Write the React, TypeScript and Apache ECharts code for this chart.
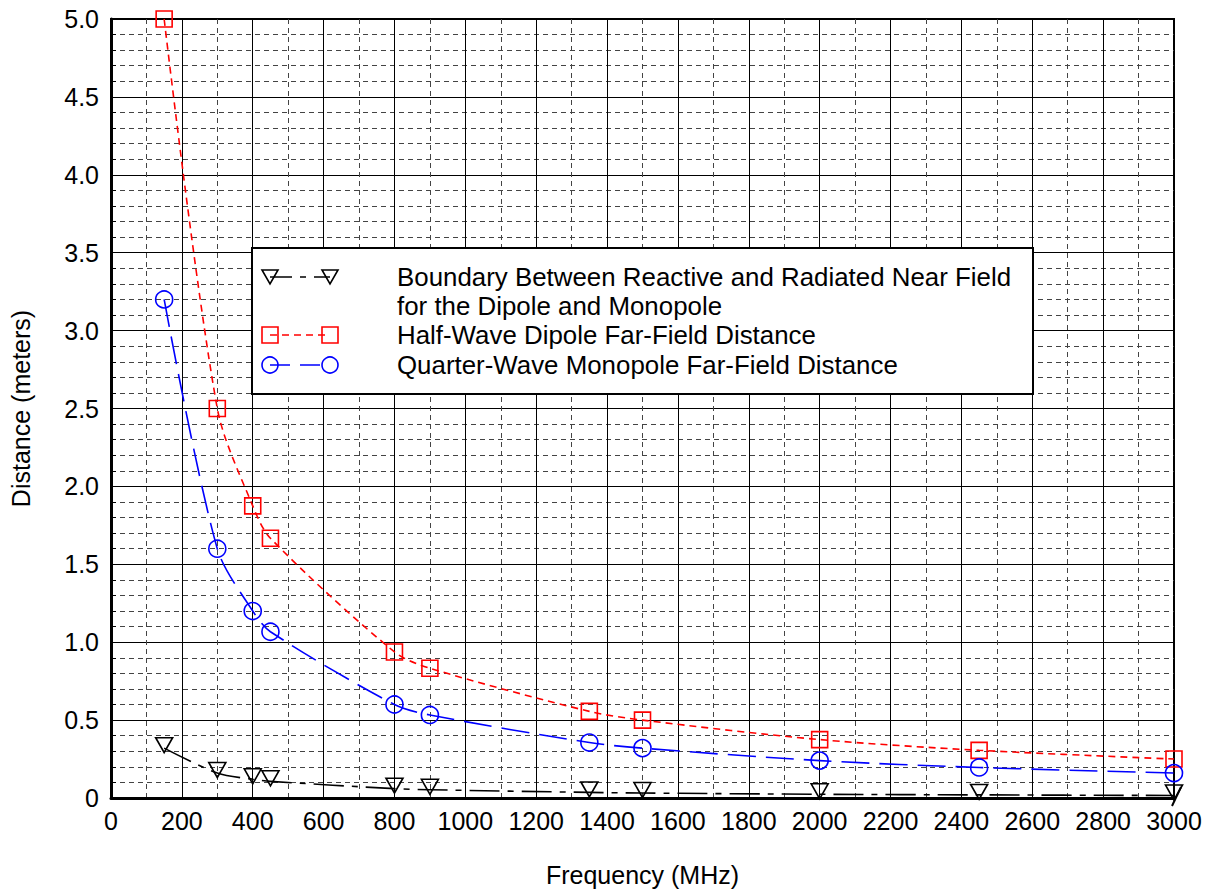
import React, { useEffect, useRef } from "react";
import * as echarts from "echarts";

const freqs = [150, 300, 400, 450, 800, 900, 1350, 1500, 2000, 2450, 3000];
const nearField = [0.32, 0.16, 0.12, 0.107, 0.06, 0.053, 0.036, 0.032, 0.024, 0.02, 0.016];
const dipoleFar = [5.0, 2.5, 1.875, 1.667, 0.9375, 0.833, 0.556, 0.5, 0.375, 0.306, 0.25];
const monopoleFar = [3.2, 1.6, 1.2, 1.067, 0.6, 0.533, 0.356, 0.32, 0.24, 0.196, 0.16];

const legendLabels = [
  "Boundary Between Reactive and Radiated Near Field",
  "for the Dipole and Monopole",
  "Half-Wave Dipole Far-Field Distance",
  "Quarter-Wave Monopole Far-Field Distance",
];

const FONT = "Liberation Sans";
const TRI = "path://M0,0 L10,0 L5,9 Z";

export default function App() {
  const ref = useRef<HTMLDivElement>(null);
  useEffect(() => {
    document.body.style.margin = "0";
    const chart = echarts.init(ref.current!, null, { renderer: "svg" });
    const mk = (ys: number[]) => freqs.map((f, i) => [f, ys[i]]);
    const hollow = (c: string) => ({ color: "rgba(255,255,255,0)", borderColor: c, borderWidth: 1.6 });

    const legendRow = (y: number, color: string, dash: number[], symbol: string) => {
      const els: any[] = [
        { type: "line", shape: { x1: 270, y1: y, x2: 330, y2: y }, style: { stroke: color, lineWidth: 1.6, lineDash: dash } },
      ];
      [270, 330].forEach((x) => {
        if (symbol === "tri") {
          els.push({ type: "polygon", shape: { points: [[x - 8, y - 7], [x + 8, y - 7], [x, y + 7]] }, style: { fill: "none", stroke: color, lineWidth: 1.6 } });
        } else if (symbol === "rect") {
          els.push({ type: "rect", shape: { x: x - 8, y: y - 8, width: 16, height: 16 }, style: { fill: "none", stroke: color, lineWidth: 1.6 } });
        } else {
          els.push({ type: "circle", shape: { cx: x, cy: y, r: 8 }, style: { fill: "none", stroke: color, lineWidth: 1.6 } });
        }
      });
      return els;
    };

    chart.setOption({
      animation: false,
      backgroundColor: "#fff",
      textStyle: { fontFamily: FONT },
      grid: { left: 111, right: 37, top: 19, bottom: 93, show: true, borderColor: "#000", borderWidth: 2, backgroundColor: "transparent", containLabel: false, outerBoundsMode: "none" },
      xAxis: {
        type: "value",
        min: 0,
        max: 3000,
        interval: 200,
        name: "Frequency (MHz)",
        nameLocation: "middle",
        nameGap: 64,
        nameTextStyle: { fontSize: 25, color: "#000", fontFamily: FONT },
        axisLine: { show: true, lineStyle: { color: "#000", width: 3 } },
        axisTick: { show: false },
        axisLabel: { fontSize: 25, color: "#000", margin: 10, fontFamily: FONT, formatter: (v: number) => String(v) },
        splitLine: { show: true, lineStyle: { color: "#000", width: 1 } },
        minorTick: { show: false, splitNumber: 2 },
        minorSplitLine: { show: true, lineStyle: { color: "#444", type: [5, 4], width: 1 } },
      },
      yAxis: {
        type: "value",
        min: 0,
        max: 5,
        interval: 0.5,
        name: "Distance (meters)",
        nameLocation: "middle",
        nameGap: 78,
        nameRotate: 90,
        nameTextStyle: { fontSize: 25, color: "#000", fontFamily: FONT },
        axisLine: { show: true, lineStyle: { color: "#000", width: 3 } },
        axisTick: { show: true, inside: true, length: 6, lineStyle: { color: "#000" } },
        minorTick: { show: true, splitNumber: 5, length: 5, lineStyle: { color: "#000" } },
        axisLabel: { fontSize: 25, color: "#000", margin: 12, fontFamily: FONT, formatter: (v: number) => (v === 0 ? "0" : v.toFixed(1)) },
        splitLine: { show: true, lineStyle: { color: "#000", width: 1 } },
        minorSplitLine: { show: true, lineStyle: { color: "#444", type: [5, 4], width: 1 } },
      },
      series: [
        {
          name: legendLabels[0],
          type: "line",
          data: mk(nearField),
          smooth: 0.3,
          symbol: TRI,
          symbolSize: [17, 15],
          symbolOffset: [0, -3],
          lineStyle: { color: "#000", width: 1.6, type: [30, 8, 6, 8] },
          itemStyle: hollow("#000"),
          z: 3,
        },
        {
          name: legendLabels[2],
          type: "line",
          data: mk(dipoleFar),
          smooth: 0.3,
          symbol: "rect",
          symbolSize: 16,
          lineStyle: { color: "#f00", width: 1.6, type: [7, 5] },
          itemStyle: hollow("#f00"),
          z: 4,
        },
        {
          name: legendLabels[3],
          type: "line",
          data: mk(monopoleFar),
          smooth: 0.3,
          symbol: "circle",
          symbolSize: 17,
          lineStyle: { color: "#00f", width: 1.6, type: [28, 10] },
          itemStyle: hollow("#00f"),
          z: 4,
        },
      ],
      graphic: [
        { type: "rect", shape: { x: 252, y: 248, width: 781, height: 146 }, style: { fill: "#fff", stroke: "#000", lineWidth: 2 }, z: 100 },
        ...legendRow(277, "#000", [22, 8, 6, 8], "tri").map((e) => ({ ...e, z: 101 })),
        ...legendRow(335, "#f00", [7, 5], "rect").map((e) => ({ ...e, z: 101 })),
        ...legendRow(365, "#00f", [20, 10], "circle").map((e) => ({ ...e, z: 101 })),
        ...[277, 306, 335, 365].map((y, i) => ({
          type: "text",
          x: 397,
          y,
          scaleX: 1.035,
          z: 101,
          style: { text: legendLabels[i], font: `25px ${FONT}`, fill: "#000", verticalAlign: "middle" },
        })),
        { type: "line", shape: { x1: 1172, y1: 806, x2: 1181, y2: 787 }, style: { stroke: "#000", lineWidth: 2 }, z: 101 },
      ],
    });
    return () => chart.dispose();
  }, []);
  return <div ref={ref} style={{ width: 1211, height: 891 }} />;
}
